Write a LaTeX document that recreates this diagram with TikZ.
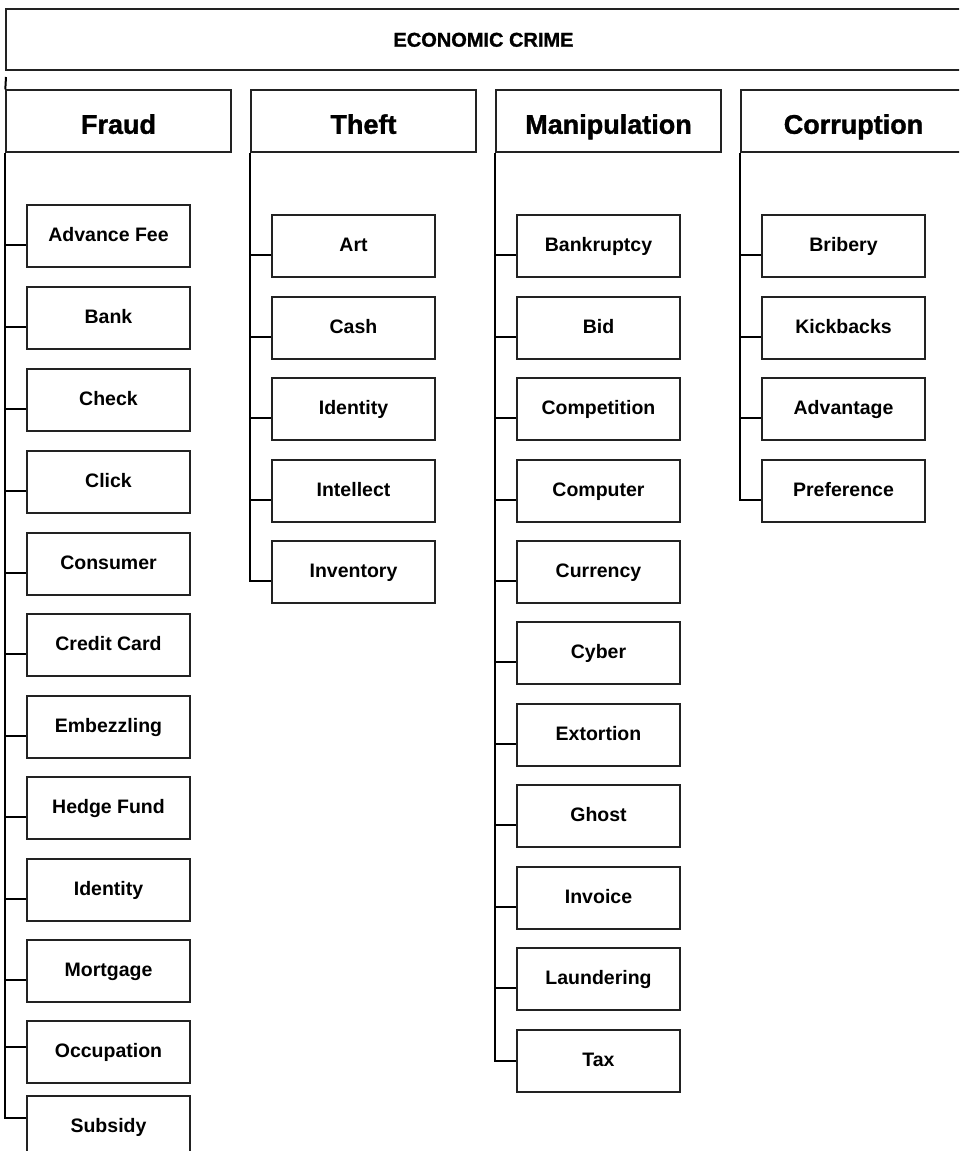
\documentclass[tikz,border=0pt]{standalone}
\usepackage{fontspec}
\setmainfont{Liberation Sans}
\newfontfamily\heavyfont{Liberation Sans Bold}[FakeBold=1.2]
\usepackage{tikz}
\usepackage{xcolor}
\definecolor{crimeline}{RGB}{34,34,34}
\tikzstyle{header} = [rectangle, minimum width=955pt, minimum height=61pt, inner sep=0pt, draw=crimeline, line width=1.4pt, text height=14.4pt, text depth=0pt, font=\fontsize{20}{24}\selectfont\heavyfont]
\tikzstyle{category} = [rectangle, minimum width=225pt, minimum height=62pt, inner sep=0pt, draw=crimeline, line width=1.4pt, text height=27pt, text depth=1.4pt, font=\fontsize{27}{32}\selectfont\heavyfont]
\tikzstyle{crime} = [rectangle, minimum width=163pt, minimum height=62pt, inner sep=0pt, draw=crimeline, line width=1.4pt, text height=14pt, text depth=3.9pt, font=\fontsize{19.5}{23}\selectfont\bfseries]
\tikzstyle{link} = [line width=2pt, color=black]

\begin{document}
\begin{tikzpicture}[x=1pt, y=-1pt]
\clip (0,0) rectangle (959,1151);

% Economic crime
\node[header] (crime) at (483.5,39.5) {ECONOMIC CRIME};
\coordinate (stub) at (6,77);

% Categories
\node[category] (fraud) at (118.5,121) {Fraud};
\node[category] (theft) at (363.5,121) {Theft};
\node[category] (manip) at (608.5,121) {Manipulation};
\node[category] (corrupt) at (853.5,121) {Corruption};

% Fraud
\node[crime] (advfee) at (108.5,236) {Advance Fee};
\node[crime] (fbank) at (108.5,318) {Bank};
\node[crime] (fcheck) at (108.5,400) {Check};
\node[crime] (fclick) at (108.5,482) {Click};
\node[crime] (fconsumer) at (108.5,564) {Consumer};
\node[crime] (fcredit) at (108.5,645) {Credit Card};
\node[crime] (fembezzle) at (108.5,727) {Embezzling};
\node[crime] (fhedge) at (108.5,808) {Hedge Fund};
\node[crime] (fidentity) at (108.5,890) {Identity};
\node[crime] (fmortgage) at (108.5,971) {Mortgage};
\node[crime] (foccupation) at (108.5,1052) {Occupation};
\node[crime] (fsubsidy) at (108.5,1127) {Subsidy};

% Theft
\node[crime] (tart) at (353.5,246) {Art};
\node[crime] (tcash) at (353.5,328) {Cash};
\node[crime] (tidentity) at (353.5,409) {Identity};
\node[crime] (tintellect) at (353.5,491) {Intellect};
\node[crime] (tinventory) at (353.5,572) {Inventory};

% Manipulation
\node[crime] (mbankrupt) at (598.5,246) {Bankruptcy};
\node[crime] (mbid) at (598.5,328) {Bid};
\node[crime] (mcompetition) at (598.5,409) {Competition};
\node[crime] (mcomputer) at (598.5,491) {Computer};
\node[crime] (mcurrency) at (598.5,572) {Currency};
\node[crime] (mcyber) at (598.5,653) {Cyber};
\node[crime] (mextortion) at (598.5,735) {Extortion};
\node[crime] (mghost) at (598.5,816) {Ghost};
\node[crime] (minvoice) at (598.5,898) {Invoice};
\node[crime] (mlaunder) at (598.5,979) {Laundering};
\node[crime] (mtax) at (598.5,1061) {Tax};

% Corruption
\node[crime] (cbribery) at (843.5,246) {Bribery};
\node[crime] (ckickbacks) at (843.5,328) {Kickbacks};
\node[crime] (cadvantage) at (843.5,409) {Advantage};
\node[crime] (cpreference) at (843.5,491) {Preference};

% Links
\draw[link] (stub) -- (fraud.north west);
\draw[link] (fraud.south west) |- ([yshift=-9pt]advfee.west)
  (fraud.south west) |- ([yshift=-9pt]fbank.west)
  (fraud.south west) |- ([yshift=-9pt]fcheck.west)
  (fraud.south west) |- ([yshift=-9pt]fclick.west)
  (fraud.south west) |- ([yshift=-9pt]fconsumer.west)
  (fraud.south west) |- ([yshift=-9pt]fcredit.west)
  (fraud.south west) |- ([yshift=-9pt]fembezzle.west)
  (fraud.south west) |- ([yshift=-9pt]fhedge.west)
  (fraud.south west) |- ([yshift=-9pt]fidentity.west)
  (fraud.south west) |- ([yshift=-9pt]fmortgage.west)
  (fraud.south west) |- ([yshift=5pt]foccupation.west)
  (fraud.south west) |- ([yshift=9pt]fsubsidy.west);
\draw[link] (theft.south west) |- ([yshift=-9pt]tart.west)
  (theft.south west) |- ([yshift=-9pt]tcash.west)
  (theft.south west) |- ([yshift=-9pt]tidentity.west)
  (theft.south west) |- ([yshift=-9pt]tintellect.west)
  (theft.south west) |- ([yshift=-9pt]tinventory.west);
\draw[link] (manip.south west) |- ([yshift=-9pt]mbankrupt.west)
  (manip.south west) |- ([yshift=-9pt]mbid.west)
  (manip.south west) |- ([yshift=-9pt]mcompetition.west)
  (manip.south west) |- ([yshift=-9pt]mcomputer.west)
  (manip.south west) |- ([yshift=-9pt]mcurrency.west)
  (manip.south west) |- ([yshift=-9pt]mcyber.west)
  (manip.south west) |- ([yshift=-9pt]mextortion.west)
  (manip.south west) |- ([yshift=-9pt]mghost.west)
  (manip.south west) |- ([yshift=-9pt]minvoice.west)
  (manip.south west) |- ([yshift=-9pt]mlaunder.west)
  (manip.south west) |- (mtax.west);
\draw[link] (corrupt.south west) |- ([yshift=-9pt]cbribery.west)
  (corrupt.south west) |- ([yshift=-9pt]ckickbacks.west)
  (corrupt.south west) |- ([yshift=-9pt]cadvantage.west)
  (corrupt.south west) |- ([yshift=-9pt]cpreference.west);
\end{tikzpicture}
\end{document}
